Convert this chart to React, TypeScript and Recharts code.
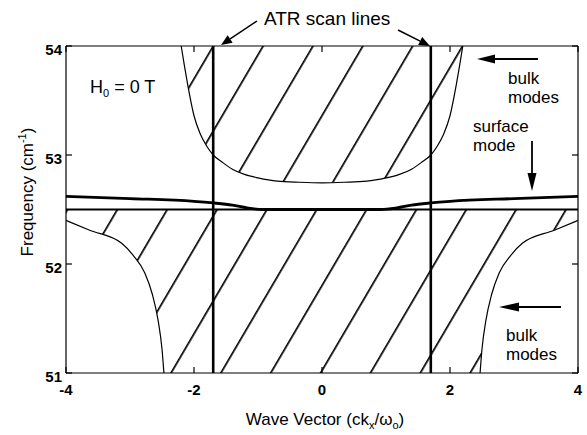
import React from 'react';
import { ComposedChart, Line, Area, XAxis, YAxis, ReferenceLine } from 'recharts';

const FONT = '"Liberation Sans", Arial, Helvetica, sans-serif';

// axis ticks
const xTicks = [-4, -2, 0, 2, 4];
const yTicks = [51, 52, 53, 54];

// ATR scan lines (ck_x / w)
const scanLines = [-1.7, 1.7];

// upper bulk band edge (U shaped)
const upperX = [-2.2, -2.15, -2.1, -2.0, -1.9, -1.8, -1.7, -1.55, -1.4, -1.2, -1.0, -0.7, -0.35, 0, 0.35, 0.7, 1.0, 1.2, 1.4, 1.55, 1.7, 1.8, 1.9, 2.0, 2.1, 2.15, 2.2];
const upperY = [54.0, 53.82, 53.65, 53.36, 53.19, 53.08, 53.0, 52.93, 52.87, 52.82, 52.79, 52.76, 52.75, 52.745, 52.75, 52.76, 52.79, 52.82, 52.87, 52.93, 53.0, 53.08, 53.19, 53.36, 53.65, 53.82, 54.0];

// lower bulk band edges
const lowerLeftX = [-4, -3.63, -3.13, -2.95, -2.77, -2.65, -2.56, -2.5, -2.47];
const lowerLeftY = [52.4, 52.31, 52.19, 52.08, 51.92, 51.72, 51.48, 51.22, 51.0];
const lowerRightX = [2.47, 2.5, 2.56, 2.65, 2.77, 2.95, 3.13, 3.63, 4];
const lowerRightY = [51.0, 51.22, 51.48, 51.72, 51.92, 52.08, 52.19, 52.31, 52.4];

// flat band limit
const limitX = [-4, 4];
const limitY = [52.5, 52.5];

// surface mode
const surfX = [-4, -3, -2, -1.7, -1.4, -1.17, -0.92, 0, 0.92, 1.17, 1.4, 1.7, 2, 3, 4];
const surfY = [52.62, 52.6, 52.575, 52.56, 52.54, 52.515, 52.5, 52.5, 52.5, 52.515, 52.54, 52.56, 52.575, 52.6, 52.62];

const toPts = (xs: number[], ys: number[]) => xs.map((x, i) => ({ x, y: ys[i] }));

const upperPts = toPts(upperX, upperY);
const lowerLeftPts = toPts(lowerLeftX, lowerLeftY);
const lowerRightPts = toPts(lowerRightX, lowerRightY);
const limitPts = toPts(limitX, limitY);
const surfPts = toPts(surfX, surfY);

const upperBand = upperPts.map((p) => ({ x: p.x, r: [p.y, 54] }));
const lowerBand = lowerLeftPts.concat(lowerRightPts).map((p) => ({ x: p.x, r: [p.y, 52.5] }));

const XTick = (p: any) => (
  <text x={p.x} y={p.y} textAnchor="middle" fontSize={15} fontWeight="bold" fontFamily={FONT} fill="#000">
    {p.payload.value}
  </text>
);
const YTick = (p: any) => (
  <text x={p.x} y={p.y + 9} textAnchor="end" fontSize={15} fontWeight="bold" fontFamily={FONT} fill="#000">
    {p.payload.value}
  </text>
);
const NoTick = () => <g />;

const Arrow = ({ x1, y1, x2, y2, len = 12, half = 4, w = 1.5 }: any) => {
  const a = Math.atan2(y2 - y1, x2 - x1);
  const bx = x2 - len * Math.cos(a);
  const by = y2 - len * Math.sin(a);
  const nx = -Math.sin(a) * half;
  const ny = Math.cos(a) * half;
  return (
    <g>
      <line x1={x1} y1={y1} x2={bx} y2={by} stroke="#000" strokeWidth={w} />
      <polygon points={`${x2},${y2} ${bx + nx},${by + ny} ${bx - nx},${by - ny}`} fill="#000" />
    </g>
  );
};

export default function App() {
  return (
    <div style={{ position: 'absolute', left: 0, top: 0, width: 587, height: 435, background: '#fff' }}>
      <ComposedChart width={587} height={435} margin={{ top: 36, right: 4, left: 36, bottom: 32 }}>
        <defs>
          <pattern
            id="hatch"
            patternUnits="userSpaceOnUse"
            width={43}
            height={20}
            patternTransform="translate(170,373) rotate(30.4)"
          >
            <rect x={0} y={0} width={1.7} height={20} fill="#000" />
          </pattern>
        </defs>

        <XAxis
          dataKey="x"
          type="number"
          domain={[-4, 4]}
          ticks={xTicks}
          interval={0}
          allowDataOverflow
          height={30}
          stroke="#000"
          strokeWidth={1.2}
          tickSize={-6}
          tickMargin={28}
          tick={XTick}
        />
        <YAxis
          type="number"
          domain={[51, 54]}
          ticks={yTicks}
          interval={0}
          allowDataOverflow
          width={30}
          stroke="#000"
          strokeWidth={1.2}
          tickSize={-6}
          tickMargin={10}
          tick={YTick}
        />
        <XAxis
          xAxisId="top"
          orientation="top"
          dataKey="x"
          type="number"
          domain={[-4, 4]}
          ticks={xTicks}
          interval={0}
          allowDataOverflow
          height={10}
          stroke="#000"
          strokeWidth={1.2}
          tickSize={-6}
          tick={NoTick}
        />
        <YAxis
          yAxisId="right"
          orientation="right"
          type="number"
          domain={[51, 54]}
          ticks={yTicks}
          interval={0}
          allowDataOverflow
          width={5}
          stroke="#000"
          strokeWidth={1.2}
          tickSize={-6}
          tick={NoTick}
        />

        <Area data={upperBand} dataKey="r" type="monotone" stroke="none" fill="url(#hatch)" fillOpacity={1} isAnimationActive={false} />
        <Area data={lowerBand} dataKey="r" type="monotone" stroke="none" fill="url(#hatch)" fillOpacity={1} isAnimationActive={false} />

        <Line data={upperPts} dataKey="y" type="monotone" stroke="#000" strokeWidth={1.2} dot={false} isAnimationActive={false} />
        <Line data={lowerLeftPts} dataKey="y" type="monotone" stroke="#000" strokeWidth={1.2} dot={false} isAnimationActive={false} />
        <Line data={lowerRightPts} dataKey="y" type="monotone" stroke="#000" strokeWidth={1.2} dot={false} isAnimationActive={false} />
        <Line data={limitPts} dataKey="y" type="linear" stroke="#000" strokeWidth={1.8} dot={false} isAnimationActive={false} />
        <Line data={surfPts} dataKey="y" type="monotone" stroke="#000" strokeWidth={2.8} dot={false} isAnimationActive={false} />

        {scanLines.map((v) => (
          <ReferenceLine key={v} x={v} stroke="#000" strokeWidth={2.6} />
        ))}
      </ComposedChart>

      <svg width={587} height={435} style={{ position: 'absolute', left: 0, top: 0, pointerEvents: 'none' }} fontFamily={FONT}>
        {/* ATR annotation */}
        <text x={264} y={25} fontSize={19} fill="#000">ATR scan lines</text>
        <Arrow x1={257} y1={21} x2={221} y2={45} len={11} half={4.5} />
        <Arrow x1={398} y1={30} x2={430} y2={46} len={11} half={4.5} />

        <text x={90} y={93} fontSize={18} fill="#000">
          H<tspan fontSize={11} dy={4}>0</tspan>
          <tspan dy={-4}> = 0 T</tspan>
        </text>

        {/* upper bulk modes */}
        <Arrow x1={538} y1={59} x2={477} y2={59} len={18} half={4.5} w={2.2} />
        <text x={508} y={84} fontSize={17} fill="#000">bulk</text>
        <text x={508} y={103} fontSize={17} fill="#000">modes</text>

        {/* surface mode */}
        <text x={473} y={132} fontSize={17} fill="#000">surface</text>
        <text x={473} y={151} fontSize={17} fill="#000">mode</text>
        <Arrow x1={532} y1={141} x2={532} y2={191} len={18} half={4.5} w={1.8} />

        {/* lower bulk modes */}
        <Arrow x1={561} y1={307} x2={499} y2={307} len={20} half={4.5} w={2.2} />
        <text x={506} y={341} fontSize={17} fill="#000">bulk</text>
        <text x={506} y={360} fontSize={17} fill="#000">modes</text>

        {/* axis titles */}
        <text x={325} y={425} fontSize={17} textAnchor="middle" fill="#000">
          Wave Vector (ck<tspan fontSize={11} dy={4}>x</tspan>
          <tspan dy={-4}>/ω</tspan>
          <tspan fontSize={11} dy={4}>o</tspan>
          <tspan dy={-4}>)</tspan>
        </text>
        <text x={33} y={192} fontSize={17} textAnchor="middle" fill="#000" transform="rotate(-90 33 192)">
          Frequency (cm<tspan fontSize={11} dy={-7}>-1</tspan>
          <tspan dy={7}>)</tspan>
        </text>
      </svg>
    </div>
  );
}
